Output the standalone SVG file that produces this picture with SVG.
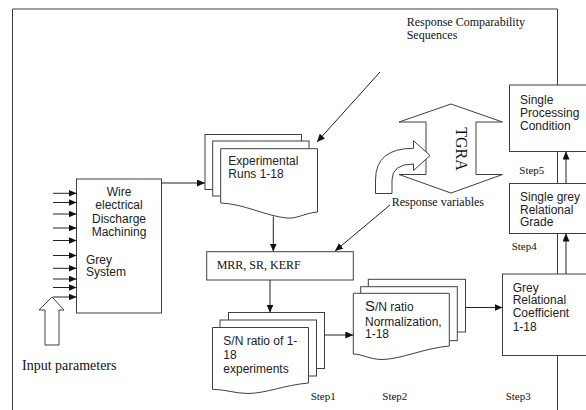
<svg xmlns="http://www.w3.org/2000/svg" width="586" height="410" viewBox="0 0 586 410">
<defs>
<marker id="ah" markerUnits="userSpaceOnUse" markerWidth="9" markerHeight="8" refX="8" refY="3.5" orient="auto">
<path d="M0,0 L8,3.5 L0,7 z" fill="#111"/>
</marker>
<style>
.ln{stroke:#404040;stroke-width:1;fill:none}
.bx{stroke:#404040;stroke-width:1;fill:#fff}
.ar{stroke:#222;stroke-width:1;fill:none;marker-end:url(#ah)}
.sa{font-family:"Liberation Sans",Arial,sans-serif;font-size:12px;fill:#222}
.se{font-family:"Liberation Serif","Times New Roman",serif;font-size:12px;fill:#111}
.st{font-family:"Liberation Serif","Times New Roman",serif;font-size:11px;fill:#111}
</style>
</defs>
<rect width="586" height="410" fill="#fff"/>
<g id="frame">
<path class="ln" d="M12.5,410 V9 H557.5 V410"/>
</g>
<g id="input-parameters">
<polygon class="bx" points="45,345 59,345 59,310 64,310 52,297 39,310 45,310"/>
<text class="se" style="font-size:14px" x="22" y="369.5">Input parameters</text>
</g>
<g id="wedm">
<rect class="bx" x="76.5" y="179" width="85" height="134"/>
<text class="sa" text-anchor="middle" x="119" y="196">Wire</text>
<text class="sa" text-anchor="middle" x="119" y="209.3">electrical</text>
<text class="sa" text-anchor="middle" x="119" y="222.6">Discharge</text>
<text class="sa" text-anchor="middle" x="119" y="236">Machining</text>
<text class="sa" x="86" y="263.5">Grey</text>
<text class="sa" x="86" y="276">System</text>
</g>
<g id="experimental-runs">
<rect class="bx" x="205" y="134.5" width="96.5" height="55"/>
<rect class="bx" x="212.7" y="141" width="96.3" height="55"/>
<path class="bx" d="M220.7,148.7 H317.5 V212 C305,213 297,219 287,218 C265,216 245,204 220.7,203 Z"/>
<text class="sa" x="228.3" y="164.5">Experimental</text>
<text class="sa" x="228.3" y="177.5">Runs 1-18</text>
</g>
<g id="response-comparability">
<text class="se" x="406.7" y="25.5">Response Comparability</text>
<text class="se" x="406.7" y="39">Sequences</text>
</g>
<g id="tgra">
<polygon class="bx" points="451,104 502.5,122 476,122 476,174.5 502.5,174.5 451,193 399,174.5 426,174.5 426,122 399,122"/>
<text class="se" style="font-size:16px" text-anchor="middle" transform="translate(455.7,149) rotate(90)">TGRA</text>
</g>
<g id="response-variables">
<path class="bx" d="M375.5,193.5 L375.5,180 Q375.5,148.3 413.5,148.3 L413.5,140.7 L430,155.5 L413.5,170.5 L413.5,164 Q392,164 392,180 L392,193.5 Z"/>
<text class="se" x="391.7" y="205.5">Response variables</text>
</g>
<g id="mrr">
<rect class="bx" x="206.7" y="251.7" width="146.6" height="28.3"/>
<text class="se" x="216.7" y="269">MRR, SR, KERF</text>
</g>
<g id="sn-ratio">
<rect class="bx" x="228.5" y="312.5" width="96" height="56"/>
<rect class="bx" x="220" y="320" width="96.5" height="56"/>
<path class="bx" d="M212.5,327.5 H308.5 V383 C285,385 265,393.5 248,393.5 C235,393.5 225,389.3 212.5,389.3 Z"/>
<text class="sa" x="223.3" y="344.5">S/N ratio of 1-</text>
<text class="sa" x="223.3" y="358.5">18</text>
<text class="sa" x="223.3" y="373">experiments</text>
</g>
<g id="sn-normalization">
<rect class="bx" x="368.3" y="279.3" width="97.2" height="52.7"/>
<rect class="bx" x="360.7" y="286.7" width="96.6" height="54"/>
<path class="bx" d="M353.3,293.3 H449.3 V346 C425,348 400,359.5 382,359.5 C370,359.5 362,354 353.3,354 Z"/>
<text class="sa" x="365" y="311"><tspan style="font-size:15px">S</tspan>/N ratio</text>
<text class="sa" x="365" y="325.5">Normalization,</text>
<text class="sa" x="365" y="338">1-18</text>
</g>
<g id="grey-relational-coefficient">
<rect class="bx" x="502.5" y="274" width="90" height="81.5"/>
<text class="sa" x="512.7" y="291.5">Grey</text>
<text class="sa" x="512.7" y="304">Relational</text>
<text class="sa" x="512.7" y="317">Coefficient</text>
<text class="sa" x="512.7" y="330.5">1-18</text>
</g>
<g id="single-grey-relational-grade">
<rect class="bx" x="509.5" y="183.5" width="85" height="50"/>
<text class="sa" x="520" y="200.5">Single grey</text>
<text class="sa" x="520" y="213.5">Relational</text>
<text class="sa" x="520" y="226">Grade</text>
</g>
<g id="single-processing-condition">
<rect class="bx" x="509.5" y="85" width="85" height="66.5"/>
<text class="sa" x="520" y="103.5">Single</text>
<text class="sa" x="520" y="116.8">Processing</text>
<text class="sa" x="520" y="129.5">Condition</text>
</g>
<g id="steps">
<text class="st" x="519.3" y="174">Step5</text>
<text class="st" x="511.7" y="249.5">Step4</text>
<text class="st" x="505.7" y="399.5">Step3</text>
<text class="st" x="382.3" y="399.5">Step2</text>
<text class="st" x="310.7" y="399.5">Step1</text>
</g>
<g id="connectors">
<line class="ar" x1="53" y1="193.3" x2="76.5" y2="193.3"/>
<line class="ar" x1="53" y1="202.5" x2="76.5" y2="202.5"/>
<line class="ar" x1="53" y1="214" x2="76.5" y2="214"/>
<line class="ar" x1="53" y1="228" x2="76.5" y2="228"/>
<line class="ar" x1="53" y1="240.5" x2="76.5" y2="240.5"/>
<line class="ar" x1="53" y1="255.5" x2="76.5" y2="255.5"/>
<line class="ar" x1="53" y1="268.3" x2="76.5" y2="268.3"/>
<line class="ar" x1="53" y1="279" x2="76.5" y2="279"/>
<line class="ar" x1="53" y1="287.5" x2="76.5" y2="287.5"/>
<line class="ar" x1="53" y1="297" x2="76.5" y2="297"/>
<line class="ar" x1="161.5" y1="183" x2="205" y2="183"/>
<line class="ar" x1="380" y1="72" x2="317" y2="142"/>
<line class="ar" x1="273.3" y1="216.5" x2="273.3" y2="251.5"/>
<line class="ar" x1="390" y1="205" x2="335" y2="251"/>
<line class="ar" x1="270" y1="280" x2="270" y2="312.5"/>
<line class="ar" x1="324.5" y1="335" x2="353.3" y2="335"/>
<line class="ar" x1="465.5" y1="307.5" x2="502.5" y2="307.5"/>
<line class="ar" x1="566" y1="183.5" x2="566" y2="151.5"/>
<line class="ar" x1="566" y1="274" x2="566" y2="233.5"/>
</g>
</svg>
